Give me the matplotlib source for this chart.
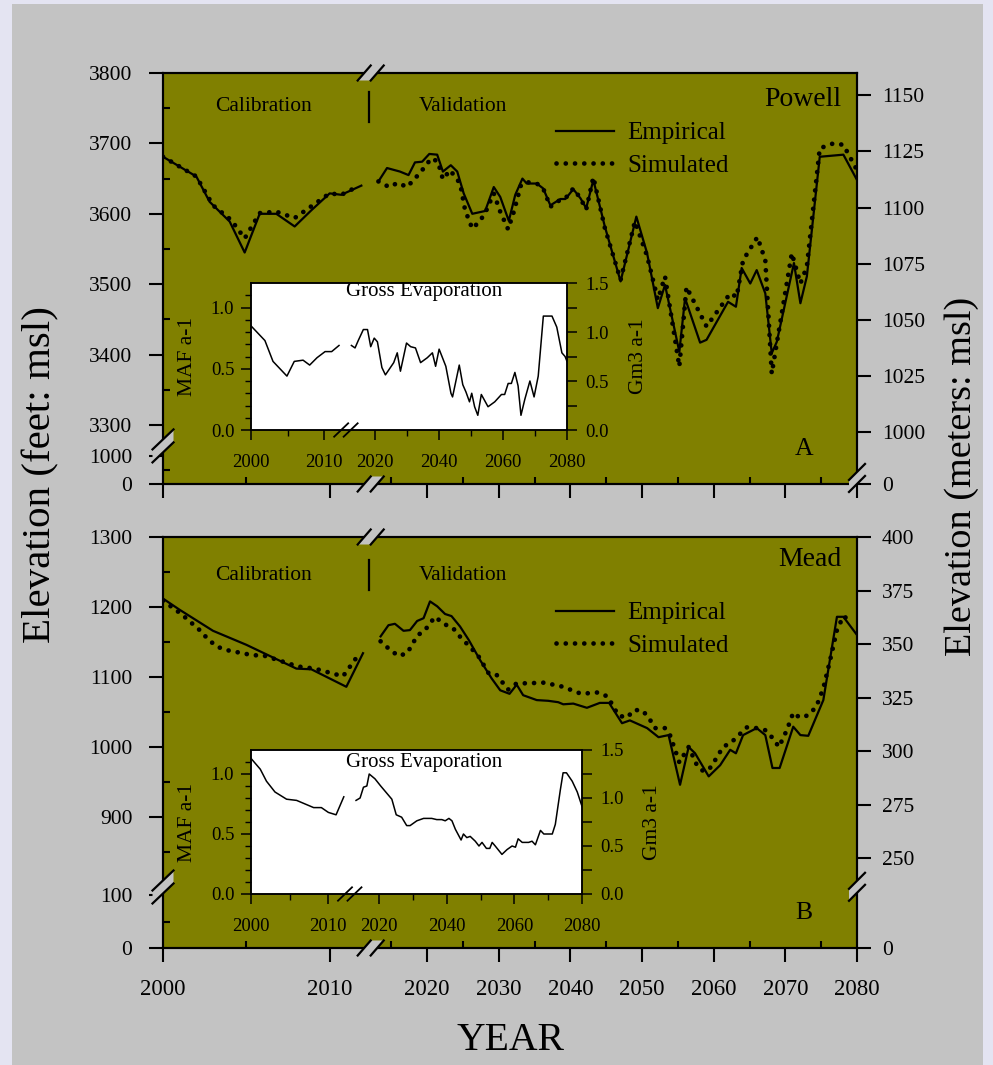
import numpy as np
import matplotlib
matplotlib.use('Agg')
import matplotlib.pyplot as plt
from matplotlib.lines import Line2D
from matplotlib.patches import Polygon, Rectangle
from matplotlib.ticker import FormatStrFormatter, NullLocator
from matplotlib.transforms import blended_transform_factory, IdentityTransform

plt.rcParams['font.family'] = ['Liberation Serif', 'DejaVu Serif']

# ---- Lake Powell elevation (ft) ----
pw_cal_year = [2000.0, 2000.5, 2002.0, 2002.8, 2004.0, 2004.9, 2005.8, 2006.8, 2007.9, 2008.9, 2010.0, 2010.7, 2011.9]
pw_cal_emp = [3681, 3674, 3653, 3617, 3589, 3545, 3600, 3600, 3582, 3605, 3629, 3627, 3640]
pw_cal_sim_year = [2000.0, 2002.0, 2003.0, 2004.1, 2004.9, 2005.8, 2006.8, 2007.9, 2010.0, 2010.7, 2011.7]
pw_cal_sim = [3681, 3653, 3612, 3591, 3565, 3601, 3603, 3594, 3629, 3627, 3639]

pw_val_year = [2013.2, 2014.4, 2016.2, 2017.4, 2018.3, 2019.3, 2020.3, 2021.4, 2022.2, 2023.3,
               2024.2, 2025.1, 2026.3, 2028.1, 2029.3, 2030.2, 2031.4, 2032.3, 2033.3, 2033.9,
               2035.3, 2036.2, 2037.2, 2038.6, 2039.3, 2040.4, 2041.4, 2042.2, 2043.2, 2044.8,
               2047.0, 2049.2, 2050.7, 2052.2, 2053.2, 2055.2, 2056.0, 2058.1, 2059.0, 2062.0,
               2063.1, 2063.9, 2065.1, 2066.0, 2067.2, 2068.1, 2068.8, 2071.2, 2072.1, 2073.0,
               2074.8, 2078.1, 2079.0, 2080.0]
pw_val_emp = [3646, 3665, 3660, 3655, 3673, 3674, 3685, 3684, 3660, 3669,
              3660, 3629, 3600, 3604, 3638, 3624, 3590, 3627, 3650, 3643,
              3643, 3636, 3612, 3621, 3621, 3635, 3622, 3608, 3648, 3582,
              3504, 3596, 3544, 3466, 3499, 3404, 3480, 3417, 3421, 3475,
              3468, 3523, 3501, 3520, 3487, 3402, 3418, 3530, 3473, 3511,
              3681, 3684, 3667, 3648]
pw_val_sim_year = [2013.2, 2014.7, 2015.9, 2017.2, 2018.0, 2019.0, 2020.6, 2021.5, 2022.2, 2023.2,
                   2024.6, 2025.3, 2026.3, 2027.3, 2028.1, 2029.3, 2030.2, 2031.3, 2032.1, 2033.1,
                   2033.9, 2035.3, 2036.2, 2037.2, 2038.6, 2039.3, 2040.4, 2041.4, 2042.2, 2043.2,
                   2044.8, 2047.0, 2049.0, 2050.7, 2052.2, 2053.2, 2055.2, 2056.2, 2059.0, 2062.3,
                   2063.2, 2064.1, 2066.1, 2067.2, 2068.1, 2070.9, 2072.1, 2073.0, 2074.8, 2076.7,
                   2078.1, 2080.0]
pw_val_sim = [3646, 3638, 3644, 3638, 3647, 3658, 3679, 3674, 3649, 3662,
              3643, 3605, 3579, 3589, 3601, 3629, 3603, 3578, 3603, 3641,
              3645, 3643, 3636, 3610, 3620, 3622, 3636, 3622, 3606, 3652,
              3580, 3506, 3589, 3540, 3478, 3511, 3383, 3496, 3440, 3487,
              3482, 3534, 3567, 3534, 3373, 3544, 3501, 3525, 3693, 3700,
              3698, 3662]

# ---- Lake Mead elevation (ft) ----
md_cal_year = [2000.0, 2001.0, 2003.0, 2005.0, 2008.0, 2008.9, 2011.0, 2012.0]
md_cal_emp = [1212, 1196, 1166, 1146, 1112, 1111, 1086, 1134]
md_cal_sim_year = [2000.0, 2001.1, 2002.2, 2002.7, 2003.2, 2003.7, 2005.4, 2006.0, 2008.1, 2009.1, 2010.8, 2011.8]
md_cal_sim = [1209, 1190, 1167, 1154, 1144, 1139, 1131, 1131, 1115, 1112, 1101, 1134]

md_val_year = [2013.5, 2014.6, 2015.5, 2016.7, 2017.6, 2018.6, 2019.5, 2020.4, 2021.4, 2022.5,
               2023.4, 2024.6, 2025.8, 2027.4, 2029.0, 2030.2, 2031.5, 2032.5, 2033.4, 2035.3,
               2036.9, 2038.3, 2039.0, 2040.4, 2042.3, 2044.1, 2045.4, 2047.2, 2048.3, 2050.7,
               2052.3, 2053.7, 2055.3, 2056.5, 2057.4, 2059.3, 2060.9, 2062.3, 2063.1, 2064.1,
               2066.0, 2067.2, 2068.2, 2069.2, 2071.1, 2072.1, 2073.2, 2075.3, 2077.2, 2078.1,
               2080.0]
md_val_emp = [1158, 1174, 1176, 1166, 1167, 1180, 1184, 1208, 1201, 1190,
              1187, 1172, 1153, 1124, 1098, 1081, 1076, 1089, 1074, 1067,
              1066, 1064, 1061, 1062, 1056, 1063, 1063, 1034, 1038, 1027,
              1014, 1017, 946, 1000, 991, 958, 974, 996, 991, 1017,
              1027, 1017, 970, 970, 1029, 1017, 1016, 1067, 1186, 1186,
              1160]
md_val_sim_year = [2013.5, 2014.8, 2016.0, 2017.2, 2017.9, 2018.6, 2019.7, 2021.1, 2022.3, 2023.6,
                   2024.8, 2026.0, 2027.2, 2028.6, 2029.7, 2031.3, 2032.5, 2033.9, 2036.5, 2037.6,
                   2039.0, 2040.2, 2041.5, 2042.7, 2043.9, 2045.2, 2046.7, 2047.9, 2048.9, 2050.1,
                   2051.1, 2051.8, 2053.2, 2053.9, 2055.2, 2056.5, 2057.7, 2058.6, 2059.6, 2061.3,
                   2062.5, 2063.7, 2064.6, 2066.0, 2067.2, 2068.3, 2069.1, 2070.2, 2071.1, 2072.0,
                   2073.1, 2074.3, 2075.3, 2076.2, 2077.2, 2078.1, 2079.3]
md_val_sim = [1151, 1139, 1130, 1134, 1146, 1159, 1167, 1186, 1176, 1170,
              1155, 1143, 1129, 1105, 1103, 1082, 1091, 1091, 1092, 1089,
              1086, 1081, 1076, 1077, 1078, 1072, 1045, 1042, 1053, 1052,
              1039, 1027, 1027, 1017, 978, 1000, 973, 965, 971, 1000,
              1007, 1019, 1028, 1027, 1024, 1012, 1000, 1024, 1049, 1042,
              1045, 1057, 1084, 1122, 1167, 1187, 1179]

# ---- gross evaporation (MAF per year) ----
pw_evap_cal_year = [2000.0, 2001.9, 2003.0, 2004.9, 2005.9, 2007.1, 2008.0, 2009.0, 2010.1, 2011.0, 2012.0]
pw_evap_cal = [0.85, 0.73, 0.56, 0.44, 0.56, 0.57, 0.53, 0.59, 0.64, 0.64, 0.69]
pw_evap_val_year = [2012.9, 2013.7, 2014.7, 2016.3, 2017.6, 2018.6, 2019.7, 2020.7, 2022.1, 2023.2,
                    2025.8, 2026.9, 2027.9, 2029.8, 2031.1, 2032.6, 2034.2, 2036.3, 2037.9, 2038.9,
                    2040.0, 2042.1, 2043.7, 2044.2, 2046.3, 2047.4, 2048.4, 2049.5, 2050.2, 2051.1,
                    2052.1, 2053.2, 2055.3, 2057.4, 2059.5, 2060.5, 2061.6, 2062.6, 2063.7, 2064.7,
                    2065.6, 2066.8, 2068.4, 2069.7, 2071.0, 2072.6, 2075.3, 2076.8, 2078.4, 2079.4,
                    2080.0]
pw_evap_val = [0.69, 0.67, 0.73, 0.82, 0.82, 0.68, 0.75, 0.72, 0.51, 0.45,
               0.55, 0.63, 0.48, 0.71, 0.68, 0.67, 0.55, 0.59, 0.63, 0.52,
               0.66, 0.52, 0.30, 0.27, 0.53, 0.37, 0.31, 0.23, 0.30, 0.19,
               0.12, 0.29, 0.19, 0.23, 0.29, 0.29, 0.38, 0.38, 0.47, 0.36,
               0.12, 0.25, 0.40, 0.27, 0.44, 0.93, 0.93, 0.84, 0.63, 0.60,
               0.56]

md_evap_cal_year = [2000.0, 2001.2, 2002.0, 2003.1, 2004.6, 2005.9, 2008.1, 2009.1, 2010.0, 2011.0, 2012.0]
md_evap_cal = [1.13, 1.04, 0.94, 0.85, 0.79, 0.78, 0.72, 0.72, 0.68, 0.66, 0.81]
md_evap_val_year = [2013.1, 2014.3, 2015.3, 2016.3, 2017.0, 2018.7, 2020.4, 2022.2, 2023.7, 2025.0,
                    2026.6, 2028.1, 2029.1, 2031.1, 2033.1, 2035.5, 2037.0, 2038.5, 2039.5, 2040.6,
                    2041.5, 2042.5, 2044.2, 2044.9, 2045.9, 2046.9, 2048.4, 2049.5, 2050.4, 2051.7,
                    2052.7, 2053.4, 2054.3, 2056.3, 2057.8, 2059.3, 2060.3, 2061.1, 2062.3, 2064.2,
                    2065.2, 2066.2, 2067.7, 2068.7, 2071.2, 2072.1, 2073.6, 2074.4, 2075.4, 2077.1,
                    2078.6, 2080.0]
md_evap_val = [0.78, 0.80, 0.89, 0.90, 1.00, 0.96, 0.90, 0.84, 0.79, 0.66,
               0.64, 0.57, 0.57, 0.61, 0.63, 0.63, 0.62, 0.62, 0.61, 0.63,
               0.61, 0.54, 0.45, 0.50, 0.47, 0.48, 0.44, 0.40, 0.43, 0.38,
               0.38, 0.43, 0.40, 0.33, 0.37, 0.40, 0.39, 0.46, 0.43, 0.43,
               0.44, 0.41, 0.53, 0.50, 0.50, 0.58, 0.87, 1.01, 1.01, 0.94,
               0.85, 0.73]

year_ticks = [2000, 2010, 2020, 2030, 2040, 2050, 2060, 2070, 2080]
year_minor = [2005, 2015, 2025, 2035, 2045, 2055, 2065, 2075]
inset_year_ticks = [2000, 2010, 2020, 2040, 2060, 2080]
inset_year_minor = [2005, 2030, 2050, 2070]

W, H = 993, 1065
OLIVE = '#808000'
GRAY = '#c3c3c3'


def px(x, y):
    return x / W, 1 - y / H


def box(x0, y0, x1, y1):
    return [x0 / W, 1 - y1 / H, (x1 - x0) / W, (y1 - y0) / H]


def piecewise(vals, pix, flip=False):
    # broken-axis mapping: linear pieces between knots, extended linearly past the ends
    v = np.asarray(vals, float)
    p = np.asarray(pix, float)
    if flip:
        p = -p
    s0 = (p[1] - p[0]) / (v[1] - v[0])
    s1 = (p[-1] - p[-2]) / (v[-1] - v[-2])
    v = np.concatenate([[v[0] - 1e5], v, [v[-1] + 1e5]])
    p = np.concatenate([[p[0] - 1e5 * s0], p, [p[-1] + 1e5 * s1]])
    return (lambda x: np.interp(x, v, p)), (lambda y: np.interp(y, p, v))


fig = plt.figure(figsize=(W / 100, H / 100), dpi=100, facecolor='#e4e4f2')
fig.add_artist(Rectangle((12 / W, 0), (983 - 12) / W, 1 - 4 / H, transform=fig.transFigure,
                         facecolor=GRAY, edgecolor='none', zorder=-5))


def slashes(cx, cy, dx, dy, step, horizontal, fill=None, lw=1.6):
    # two parallel "/" strokes centred on (cx, cy), pixel coords from top-left
    if horizontal:
        centres = [(cx - step / 2, cy), (cx + step / 2, cy)]
    else:
        centres = [(cx, cy - step / 2), (cx, cy + step / 2)]
    if fill is not None:
        (x1, y1), (x2, y2) = centres
        corners = [(x1 - dx, y1 + dy), (x1 + dx, y1 - dy), (x2 + dx, y2 - dy), (x2 - dx, y2 + dy)]
        fig.add_artist(Polygon([(x, H - y) for x, y in corners], closed=True, transform=IdentityTransform(),
                               facecolor=fill, edgecolor='none', zorder=8))
    for x, y in centres:
        fig.add_artist(Line2D([x - dx, x + dx], [H - (y + dy), H - (y - dy)], transform=IdentityTransform(),
                              color='k', lw=lw, zorder=9))


def disp(trans, pt):
    x, y = trans.transform(pt)
    return x, H - y


def style_main(ax, show_labels):
    ax.set_facecolor(OLIVE)
    for s in ax.spines.values():
        s.set_linewidth(1.5)
    ax.set_xticks(year_ticks)
    ax.set_xticks(year_minor, minor=True)
    ax.tick_params(which='major', direction='out', length=10, width=1.5)
    ax.tick_params(which='minor', direction='in', length=5, width=1.5)
    ax.tick_params(axis='x', labelbottom=show_labels, labelsize=16.5, pad=12)
    ax.tick_params(axis='y', labelsize=15.5, pad=12)


def panel(box_px, y_knots_l, y_knots_r, top_l, top_r, lmajor, lminor, rmajor,
          cal, val, name, letter, ybreak_l, ybreak_r, show_labels,
          text_dy, name_dy, leg_dy):
    x0, y0, x1, y1 = box_px
    ax = fig.add_axes(box(*box_px))
    ax.set_xscale('function', functions=piecewise([2000, 2012, 2013, 2080], [x0, x0 + 200, x0 + 214, x1]))
    ax.set_xlim(2000, 2080)
    ax.set_yscale('function', functions=piecewise(*y_knots_l, flip=True))
    ax.set_ylim(0, top_l)
    style_main(ax, show_labels)
    ax.set_yticks(lmajor)
    ax.set_yticks(lminor, minor=True)

    axr = ax.twinx()
    axr.set_yscale('function', functions=piecewise(*y_knots_r, flip=True))
    axr.set_ylim(0, top_r)
    axr.set_yticks(rmajor)
    axr.yaxis.set_minor_locator(NullLocator())
    axr.tick_params(direction='out', length=10, width=1.5, labelsize=15.5, pad=8)
    for s in axr.spines.values():
        s.set_linewidth(1.5)

    emp_style = dict(color='k', lw=1.6)
    sim_style = dict(color='k', lw=3.4, linestyle=(0, (0.01, 1.95)), dash_capstyle='round')
    for yrs, emp, syrs, sim in (cal, val):
        ax.plot(yrs, emp, **emp_style)
        ax.plot(syrs, sim, **sim_style)

    h = [Line2D([], [], **emp_style), Line2D([], [], **sim_style)]
    ax.legend(h, ['Empirical', 'Simulated'], loc='upper left', frameon=False, fontsize=18,
              bbox_to_anchor=px(x0 + 393, y0 + leg_dy), bbox_transform=fig.transFigure,
              handlelength=2.3, handletextpad=0.55, labelspacing=0.38, borderpad=0, borderaxespad=0)

    fig.text(*px(x0 + 101, y0 + text_dy), 'Calibration', fontsize=15.5, ha='center', va='center')
    fig.text(*px(x0 + 300, y0 + text_dy), 'Validation', fontsize=15.5, ha='center', va='center')
    fig.add_artist(Line2D([(x0 + 206) / W] * 2, [1 - (y0 + text_dy - 15) / H, 1 - (y0 + text_dy + 15) / H],
                          transform=fig.transFigure, color='k', lw=1.6))
    fig.text(*px(x1 - 16, y0 + name_dy), name, fontsize=20, ha='right', va='center')
    fig.text(*px(x1 - 53, y1 - 35), letter, fontsize=18.5, ha='center', va='center')

    # axis break marks
    bx = blended_transform_factory(ax.transData, ax.transAxes)
    for fy_ in (0, 1):
        cx, cy = disp(bx, (2012.55, fy_))
        slashes(cx, cy, 6.5, 7.5, 13, True, fill=GRAY)
    by = blended_transform_factory(ax.transAxes, ax.transData)
    cx, cy = disp(by, (0, ybreak_l))
    slashes(cx, cy, 10.5, 10, 13, False, fill=GRAY)
    byr = blended_transform_factory(axr.transAxes, axr.transData)
    cx, cy = disp(byr, (1, ybreak_r))
    slashes(cx, cy, 8, 8, 12, False, fill=GRAY)
    return ax


def inset(box_px, x_knots, cal_year, cal, val_year, val, title_y, right_label_x):
    x0, y0, x1, y1 = box_px
    ins = fig.add_axes(box(*box_px))
    ins.set_facecolor('white')
    ins.set_xscale('function', functions=piecewise([2000, 2012, 2013, 2080], x_knots))
    ins.set_xlim(2000, 2080)
    ins.set_ylim(0, 1.2)
    ins.plot(cal_year, cal, color='k', lw=1.1)
    ins.plot(val_year, val, color='k', lw=1.1)
    ins.set_xticks(inset_year_ticks)
    ins.set_xticks(inset_year_minor, minor=True)
    ins.set_yticks([0, 0.5, 1.0])
    ins.set_yticks(np.arange(0.1, 1.15, 0.1), minor=True)
    ins.yaxis.set_major_formatter(FormatStrFormatter('%.1f'))
    ins.tick_params(which='major', direction='out', length=7, width=1.1, labelsize=13.5)
    ins.tick_params(which='minor', direction='out', length=4, width=1.0)
    ins.tick_params(axis='x', pad=10)
    ins.tick_params(axis='y', pad=5)
    for s in ins.spines.values():
        s.set_linewidth(1.1)
    ins.set_ylabel('MAF a-1', fontsize=15.5)
    ins.yaxis.set_label_coords((197 - x0) / (x1 - x0), 0.5)
    ins.text((173 + 0.5) / (x1 - x0), title_y, 'Gross Evaporation', fontsize=15,
             ha='center', va='center', transform=ins.transAxes)

    insr = ins.twinx()
    insr.set_ylim(0, 1.5)
    insr.set_yticks([0, 0.5, 1.0, 1.5])
    insr.set_yticks([0.25, 0.75, 1.25], minor=True)
    insr.yaxis.set_major_formatter(FormatStrFormatter('%.1f'))
    insr.tick_params(which='major', direction='out', length=7, width=1.1, labelsize=13.5, pad=6)
    insr.tick_params(which='minor', direction='out', length=7, width=1.1)
    for s in insr.spines.values():
        s.set_linewidth(1.1)
    insr.set_ylabel('Gm3 a-1', fontsize=15.5, rotation=90)
    insr.yaxis.set_label_coords((right_label_x - x0) / (x1 - x0), 0.5)

    bx = blended_transform_factory(ins.transData, ins.transAxes)
    cx, cy = disp(bx, (2012.5, 0))
    slashes(cx, cy, 7, 6.7, 9.5, True, lw=1.3)


# Lake Powell panel
panel((163, 73, 857, 484),
      ([0, 1000, 3300, 3800], [484, 456, 425, 73]),
      ([0, 985, 1000, 1160], [484, 465.4, 431.7, 73]),
      3800, 1160,
      [0, 1000, 3300, 3400, 3500, 3600, 3700, 3800],
      [500, 3350, 3450, 3550, 3650, 3750],
      [0, 1000, 1025, 1050, 1075, 1100, 1125, 1150],
      (pw_cal_year, pw_cal_emp, pw_cal_sim_year, pw_cal_sim),
      (pw_val_year, pw_val_emp, pw_val_sim_year, pw_val_sim),
      'Powell', 'A', 1750, 320, False, 34, 26, 49)

# Lake Mead panel
panel((163, 537, 857, 948),
      ([0, 100, 850, 1300], [948, 895, 852, 537]),
      ([0, 240, 400], [948, 879.7, 537]),
      1300, 400,
      [0, 100, 900, 1000, 1100, 1200, 1300],
      [50, 850, 950, 1050, 1150, 1250],
      [0, 250, 275, 300, 325, 350, 375, 400],
      (md_cal_year, md_cal_emp, md_cal_sim_year, md_cal_sim),
      (md_val_year, md_val_emp, md_val_sim_year, md_val_sim),
      'Mead', 'B', 240, 215, True, 38, 22, 65)

inset((251, 283, 567, 430), [251, 339, 352.8, 567],
      pw_evap_cal_year, pw_evap_cal, pw_evap_val_year, pw_evap_val, 0.94, 629)
inset((251, 750, 582, 894), [251, 343.8, 355.7, 582],
      md_evap_cal_year, md_evap_cal, md_evap_val_year, md_evap_val, 0.91, 643)

fig.text(*px(41, 475), 'Elevation (feet: msl)', fontsize=29.5, rotation=90, ha='center', va='center')
fig.text(*px(962, 476), 'Elevation (meters: msl)', fontsize=27.5, rotation=90, ha='center', va='center')
fig.text(*px(510, 1040), 'YEAR', fontsize=28.5, ha='center', va='center')

fig.savefig('out.png', dpi=100, facecolor=fig.get_facecolor())
